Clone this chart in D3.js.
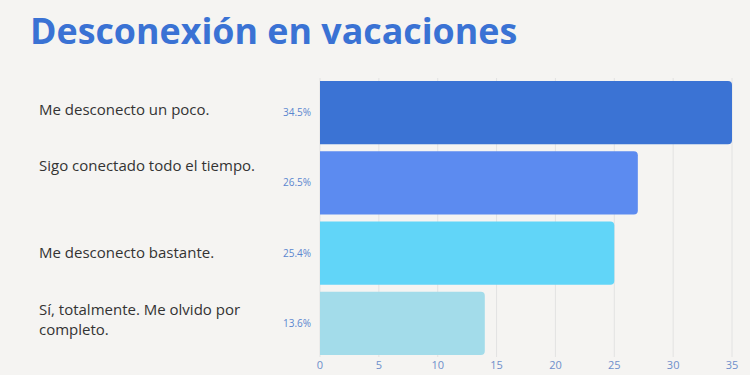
<!DOCTYPE html>
<html>
<head>
<meta charset="utf-8">
<script src="https://cdn.jsdelivr.net/npm/d3@7"></script>
<style>
  html, body { margin: 0; padding: 0; background: #f5f4f2; }
  svg { display: block; font-family: "Open Sans", sans-serif; }
</style>
</head>
<body>
<svg width="750" height="375"></svg>
<script>
(function(d3) {
    "use strict";

var categories = [
    ["Me desconecto un poco."],
    ["Sigo conectado todo el tiempo."],
    ["Me desconecto bastante."],
    ["Sí, totalmente. Me olvido por", "completo."]
];
var values = [35, 27, 25, 14];
var valueLabels = ["34.5%", "26.5%", "25.4%", "13.6%"];
var ticks = [0, 5, 10, 15, 20, 25, 30, 35];
var colors = ["#3b73d4", "#5c8bf0", "#61d5f8", "#a3dcea"];

var svg = d3.select("svg"),
    x = d3.scaleLinear().domain([0, 35]).range([320, 732]),
    y = d3.scaleBand().domain(d3.range(values.length))
        .range([77.5, 358.5]).paddingInner(0.1).paddingOuter(0.05),
    // label nudges so they sit like the original layout
    labelShift = [-3, -17, 0, -4];

svg.append("text")
    .attr("x", 30)
    .attr("y", 44)
    .attr("fill", "#3a72d4")
    .attr("font-size", 35.8)
    .attr("font-weight", 700)
    .text("Desconexión en vacaciones");

svg.append("g")
    .selectAll("line")
    .data(ticks)
    .join("line")
    .attr("x1", function(d) { return x(d); })
    .attr("x2", function(d) { return x(d); })
    .attr("y1", 78)
    .attr("y2", 357)
    .attr("stroke", "#e2e2e2")
    .attr("stroke-width", 1);

function barPath(i) {
    var x0 = x(0), x1 = x(values[i]), y0 = y(i), h = y.bandwidth(), r = 4;
    return "M" + x0 + "," + y0 +
        "H" + (x1 - r) + "A" + r + "," + r + " 0 0 1 " + x1 + "," + (y0 + r) +
        "V" + (y0 + h - r) + "A" + r + "," + r + " 0 0 1 " + (x1 - r) + "," + (y0 + h) +
        "H" + x0 + "Z";
}

svg.append("g")
    .selectAll("path")
    .data(values)
    .join("path")
    .attr("d", function(d, i) { return barPath(i); })
    .attr("fill", function(d, i) { return colors[i]; });

svg.append("g")
    .selectAll("text")
    .data(valueLabels)
    .join("text")
    .attr("x", 311)
    .attr("y", function(d, i) { return y(i) + y.bandwidth() / 2; })
    .attr("dy", "0.35em")
    .attr("text-anchor", "end")
    .attr("font-size", 10)
    .attr("fill", "#5a86cf")
    .text(function(d) { return d; });

var cat = svg.append("g")
    .selectAll("text")
    .data(categories)
    .join("text")
    .attr("x", 39)
    .attr("y", function(d, i) {
        return y(i) + y.bandwidth() / 2 + labelShift[i] - (d.length - 1) * 10;
    })
    .attr("font-size", 15)
    .attr("fill", "#333333");

cat.selectAll("tspan")
    .data(function(d) { return d; })
    .join("tspan")
    .attr("x", 39)
    .attr("dy", function(d, i) { return i === 0 ? "0.35em" : 20; })
    .text(function(d) { return d; });

svg.append("g")
    .selectAll("text")
    .data(ticks)
    .join("text")
    .attr("x", function(d) { return x(d); })
    .attr("y", 369)
    .attr("text-anchor", "middle")
    .attr("font-size", 11)
    .attr("fill", "#6e8fcb")
    .text(function(d) { return d; });

}(d3));
</script>
</body>
</html>
